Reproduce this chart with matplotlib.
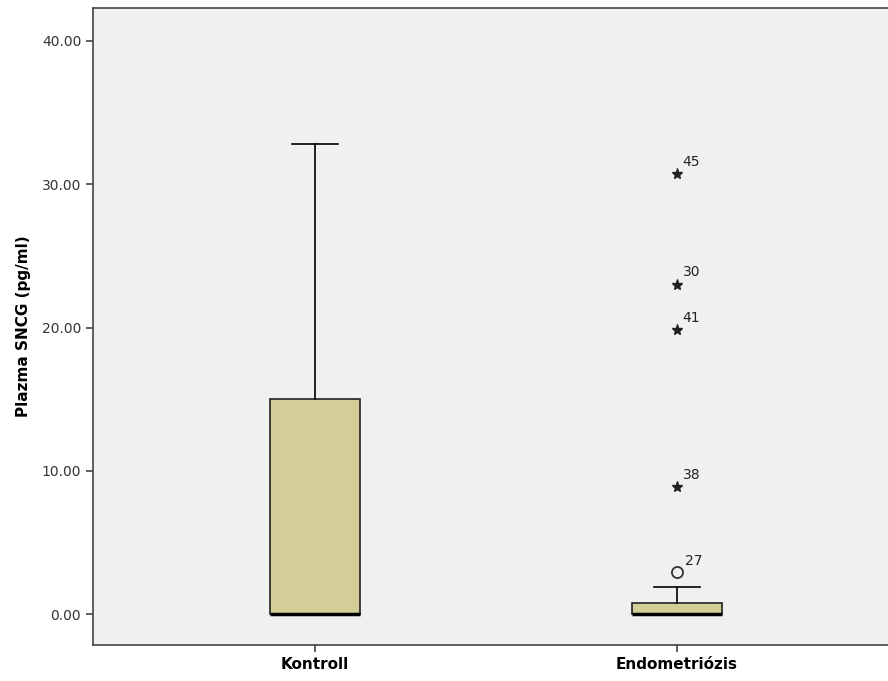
import matplotlib.pyplot as plt

# datos
grupos = ['Kontroll', 'Endometriózis']
q1 = [0.0, 0.0]
mediana = [0.0, 0.0]
q3 = [15.0, 0.77]
bigote_inf = [0.0, 0.0]
bigote_sup = [32.8, 1.88]

# valores atipicos del grupo Endometriózis
atipicos_circulo = [2.93]
etiquetas_circulo = ['27']
atipicos_estrella = [30.7, 23.0, 19.8, 8.87]
etiquetas_estrella = ['45', '30', '41', '38']

fig = plt.figure(figsize=(8.88, 6.81), dpi=100)
ax = fig.add_axes([93 / 888, 1 - 645 / 681, 1 - 93 / 888 + 0.01, (645 - 8) / 681])
ax.set_facecolor('#f0f0f0')

stats = []
for i in range(len(grupos)):
    stats.append({'label': grupos[i], 'q1': q1[i], 'med': mediana[i], 'q3': q3[i],
                  'whislo': bigote_inf[i], 'whishi': bigote_sup[i], 'fliers': []})

ax.bxp(stats, positions=[1, 2], widths=0.25, patch_artist=True,
       boxprops=dict(facecolor='#d3ce98', edgecolor='#222222', linewidth=1.2),
       medianprops=dict(color='black', linewidth=2.5),
       whiskerprops=dict(color='black', linewidth=1.2),
       capprops=dict(color='black', linewidth=1.2),
       capwidths=0.128)

# valores atipicos
ax.plot([2] * len(atipicos_circulo), atipicos_circulo, 'o', mfc='none', mec='#333333', ms=8, mew=1.3)
ax.plot([2] * len(atipicos_estrella), atipicos_estrella, '*', color='#222222', ms=8)
for v, t in zip(atipicos_circulo, etiquetas_circulo):
    ax.annotate(t, (2, v), xytext=(6, 5), textcoords='offset points', fontsize=10, color='#222222')
for v, t in zip(atipicos_estrella, etiquetas_estrella):
    ax.annotate(t, (2, v), xytext=(4, 6), textcoords='offset points', fontsize=10, color='#222222')

ax.set_xlim(0.387, 2.607)
ax.set_ylim(-2.16, 42.3)
ax.set_yticks([0, 10, 20, 30, 40])
ax.set_yticklabels(['0.00', '10.00', '20.00', '30.00', '40.00'], fontsize=10, color='#333333')
ax.set_xticks([1, 2])
ax.set_xticklabels(grupos, fontsize=11, fontweight='bold')
ax.set_ylabel('Plazma SNCG (pg/ml)', fontsize=11, fontweight='bold', labelpad=8)

for s in ['left', 'top', 'bottom']:
    ax.spines[s].set_color('#444444')
    ax.spines[s].set_linewidth(1.2)
ax.spines['right'].set_visible(False)
ax.tick_params(axis='both', direction='out', length=5, width=1.2, color='#444444')

plt.savefig('out.png', dpi=100)
